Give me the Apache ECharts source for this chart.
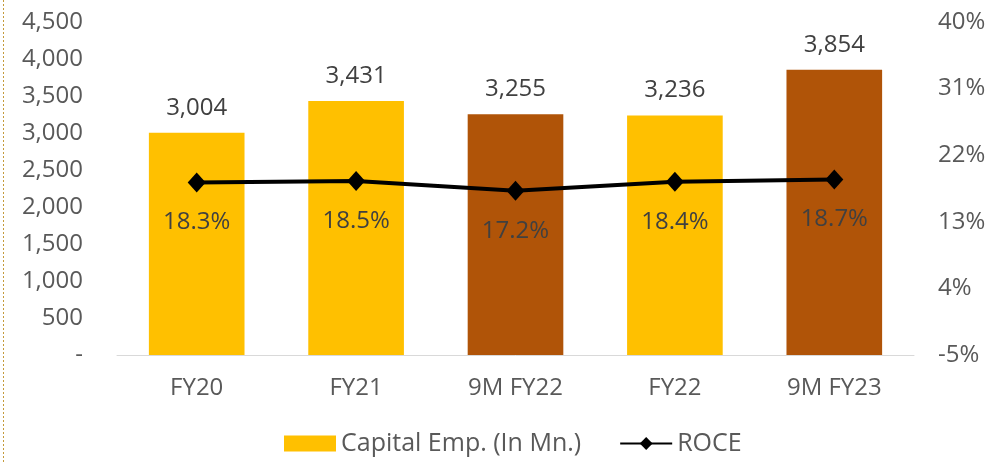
<!DOCTYPE html>
<html><head><meta charset="utf-8">
<script src="https://cdn.jsdelivr.net/npm/echarts@6/dist/echarts.min.js"></script>
<style>html,body{margin:0;padding:0;background:#fff}#c{width:990px;height:463px}</style>
</head><body><div id="c"></div>
<script>
var categories = ['FY20','FY21','9M FY22','FY22','9M FY23'];
var capitalEmp = [3004, 3431, 3255, 3236, 3854];
var roce = [18.3, 18.5, 17.2, 18.4, 18.7];
var barColors = ['#FFC000','#FFC000','#B05408','#FFC000','#B05408'];
var leftTicks = [0,500,1000,1500,2000,2500,3000,3500,4000,4500];
var rightTicks = [-5,4,13,22,31,40];

var F = '"Open Sans", Lato, sans-serif';
var FS = 24;
var chart = echarts.init(document.getElementById('c'));
chart.setOption({
  animation:false,
  textStyle:{fontFamily:F},
  graphic:[{type:'line',shape:{x1:3.5,y1:0,x2:3.5,y2:463},style:{stroke:'#C49A3A',lineWidth:1,lineDash:[2,2]}}],
  legend:{
    bottom:2, left:279, itemGap:38, itemWidth:52, itemHeight:16,
    textStyle:{fontSize:25,color:'#595959',fontFamily:F},
    data:[{name:'Capital Emp. (In Mn.)',icon:'rect'},{name:'ROCE'}]
  },
  grid:{left:117,right:76,top:22,bottom:108,containLabel:false},
  xAxis:{type:'category',data:categories,
    axisLine:{lineStyle:{color:'#D9D9D9',width:1}},axisTick:{show:false},
    axisLabel:{fontSize:FS,color:'#595959',margin:21,fontFamily:F}},
  yAxis:[
    {type:'value',min:leftTicks[0],max:leftTicks[leftTicks.length-1],interval:500,
     splitLine:{show:false},axisLine:{show:false},axisTick:{show:false},
     axisLabel:{fontSize:FS,color:'#595959',margin:34,fontFamily:F,
       formatter:function(v){return v===0?'-':v.toLocaleString('en-US');}}},
    {type:'value',min:rightTicks[0],max:rightTicks[rightTicks.length-1],interval:9,
     splitLine:{show:false},axisLine:{show:false},axisTick:{show:false},
     axisLabel:{fontSize:FS,color:'#595959',margin:24,fontFamily:F,formatter:'{value}%'}}
  ],
  series:[
    {name:'Capital Emp. (In Mn.)',type:'bar',barWidth:'60%',yAxisIndex:0,
     itemStyle:{color:'#FFC000'},
     data:capitalEmp.map(function(v,i){return {value:v,itemStyle:{color:barColors[i]}};}),
     label:{show:true,position:'top',distance:13,fontSize:FS,color:'#404040',fontFamily:F,
       formatter:function(p){return p.value.toLocaleString('en-US');}}},
    {name:'ROCE',type:'line',yAxisIndex:1,data:roce,
     symbol:'diamond',symbolSize:[18,20],
     lineStyle:{color:'#000',width:4},itemStyle:{color:'#000'},
     label:{show:true,position:'bottom',distance:18,fontSize:FS,color:'#404040',fontFamily:F,
       formatter:function(p){return p.value.toFixed(1)+'%';}}}
  ]
});
</script></body></html>
